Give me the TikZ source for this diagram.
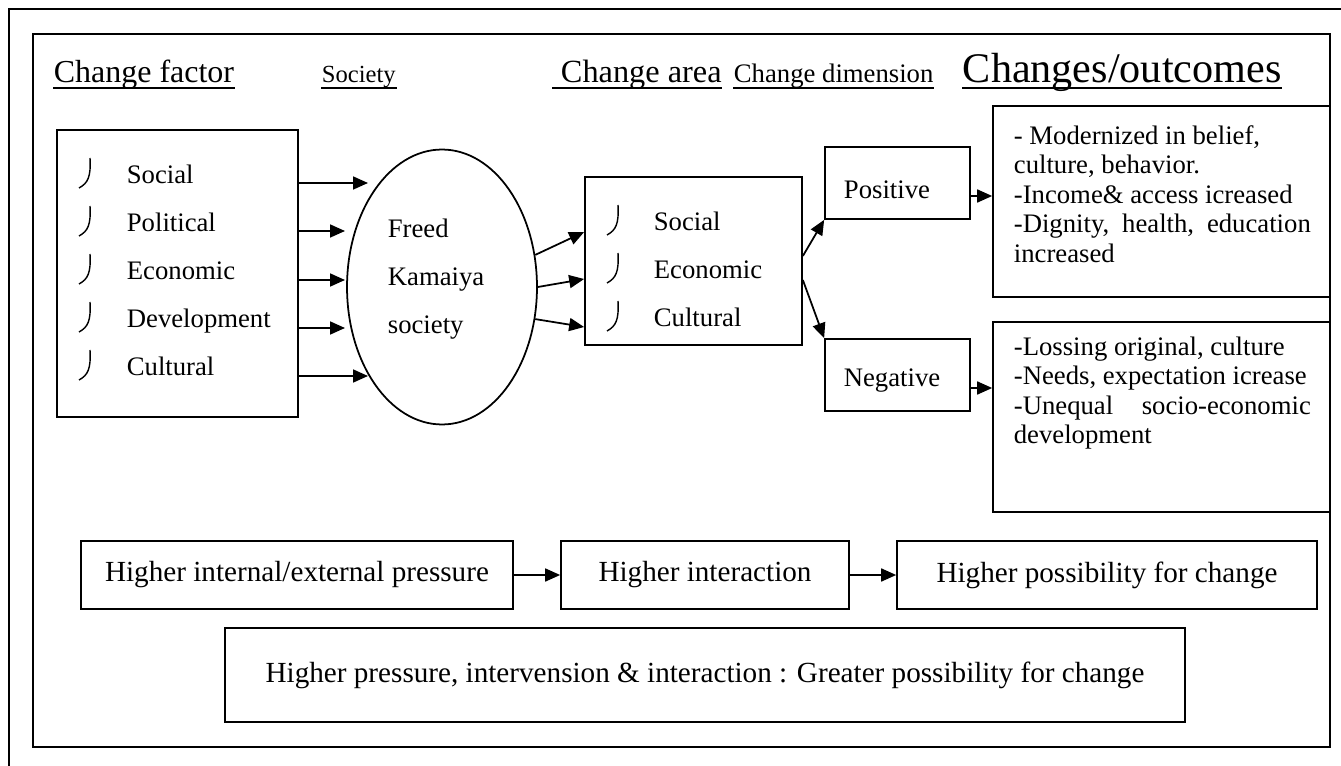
\documentclass[tikz,border=0pt]{standalone}
\usepackage{fontspec}
\setmainfont{Liberation Serif}
\usetikzlibrary{arrows.meta,shapes.geometric}

% hook bullet: top x, centre y
\newcommand{\jbul}[2]{\draw[line width=0.8pt] (#1,#2-17) .. controls (#1+1,#2+2) and (#1-2,#2+8) .. (#1-11,#2+13);}

\begin{document}
\begin{tikzpicture}[x=0.02cm,y=-0.02cm,line width=1pt,
		every node/.style={font=\fontsize{15.2}{18}\selectfont},
		frame/.style={draw,rectangle,inner sep=0pt},
		head/.style={anchor=base west,inner sep=0pt},
		item/.style={anchor=base west,inner sep=0pt},
		big/.style={font=\fontsize{16.6}{20}\selectfont},
		outtext/.style={anchor=west,inner sep=0pt,align=left,font=\fontsize{15.2}{16.8}\selectfont},
		arr/.style={-{Triangle[length=0.3cm,width=0.26cm]}}]
	\useasboundingbox (0,0) rectangle (1341,766);
	\draw (9,766) -- (9,9) -- (1341,9);
	\draw (33,34) rectangle (1330,747);
	
	% headings
	\node[head,font=\fontsize{18.2}{20}\selectfont] (hfac) at (53,83) {Change factor};
	\node[head,font=\fontsize{14}{20}\selectfont] (hsoc) at (321,83) {Society};
	\node[head,font=\fontsize{18.4}{20}\selectfont] (harea) at (552,83) {\ Change area};
	\node[head,font=\fontsize{15.2}{20}\selectfont] (hdim) at (733,83) {Change dimension};
	\node[head,font=\fontsize{24}{26}\selectfont] (hout) at (962,83) {Changes/outcomes};
	\foreach \h in {hfac,hsoc,harea,hdim,hout}
		\draw[line width=1.2pt] ([yshift=-0.1cm]\h.base west) -- ([yshift=-0.1cm]\h.base east);
	
	% change factor
	\node[frame,minimum width=4.82cm,minimum height=5.74cm] (fac) at (177.5,273.5) {};
	\foreach \t [count=\i] in {Social,Political,Economic,Development,Cultural} {
		\node[item] (fac\i) at (126,136+48*\i) {\t};
		\jbul{90}{127+48*\i}
	}
	
	% society
	\node[draw,ellipse,inner sep=0pt,minimum width=3.8cm,minimum height=5.5cm] (soc) at (442,287) {};
	\node[anchor=west,inner sep=0pt,align=left,font=\fontsize{15.2}{27.2}\selectfont] (soctext) at (387,279) {Freed\\Kamaiya\\society};
	\foreach \y/\x [count=\i] in {183/368,231/345,280/345,328/345,376/368} {
		\coordinate (in\i) at (\x,\y);
		\draw[arr] (fac.east |- in\i) -- (in\i);
	}
	
	% change area
	\node[frame,minimum width=4.34cm,minimum height=3.36cm] (area) at (693.5,261) {};
	\foreach \t [count=\i] in {Social,Economic,Cultural} {
		\node[item] (area\i) at (653,183+48*\i) {\t};
		\jbul{618}{174+48*\i}
	}
	\draw[arr] (soc.19) -- (area.west |- 0,232);
	\draw[arr] (soc.east) -- (area.west |- 0,279);
	\draw[arr] (soc.-19) -- (area.west |- 0,327);
	
	% change dimension
	\node[frame,minimum width=2.9cm,minimum height=1.44cm] (pos) at (897.5,183) {};
	\node[frame,minimum width=2.9cm,minimum height=1.44cm] (neg) at (897.5,375) {};
	\node (postxt) at (887,190) {Positive};
	\node (negtxt) at (892,381) {Negative};
	\draw[arr] (area.east |- 0,256) -- (pos.south west);
	\draw[arr] (area.east |- 0,280) -- (neg.north west);
	
	% outcomes
	\node[frame,minimum width=6.74cm,minimum height=3.82cm] (posout) at (1161.5,201.5) {};
	\node[frame,minimum width=6.74cm,minimum height=3.8cm] (negout) at (1161.5,417) {};
	\node[outtext] (postext) at (1013,194) {- Modernized in belief,\\culture, behavior.\\-Income\& access icreased\\\makebox[5.94cm][s]{-Dignity, health, education}\\increased};
	\node[outtext] (negtext) at (1013,393) {-Lossing original, culture\\-Needs, expectation icrease\\\makebox[5.94cm][s]{-Unequal socio-economic}\\development};
	\draw[arr] (pos.east |- 0,196) -- (posout.west |- 0,196);
	\draw[arr] (neg.east |- 0,388) -- (negout.west |- 0,388);
	
	% pressure chain
	\node[frame,big,minimum width=8.64cm,minimum height=1.36cm] (pres) at (297,575) {Higher internal/external pressure};
	\node[frame,big,minimum width=5.76cm,minimum height=1.36cm] (inter) at (705,575) {Higher interaction};
	\node[frame,big,minimum width=8.4cm,minimum height=1.36cm] (poss) at (1107,575) {Higher possibility for change};
	\draw[arr] (pres.east) -- (inter.west);
	\draw[arr] (inter.east) -- (poss.west);
	\node[frame,big,minimum width=19.2cm,minimum height=1.88cm] (sum) at (705,675) {Higher pressure, intervension \& interaction : Greater possibility for change};
\end{tikzpicture}
\end{document}
